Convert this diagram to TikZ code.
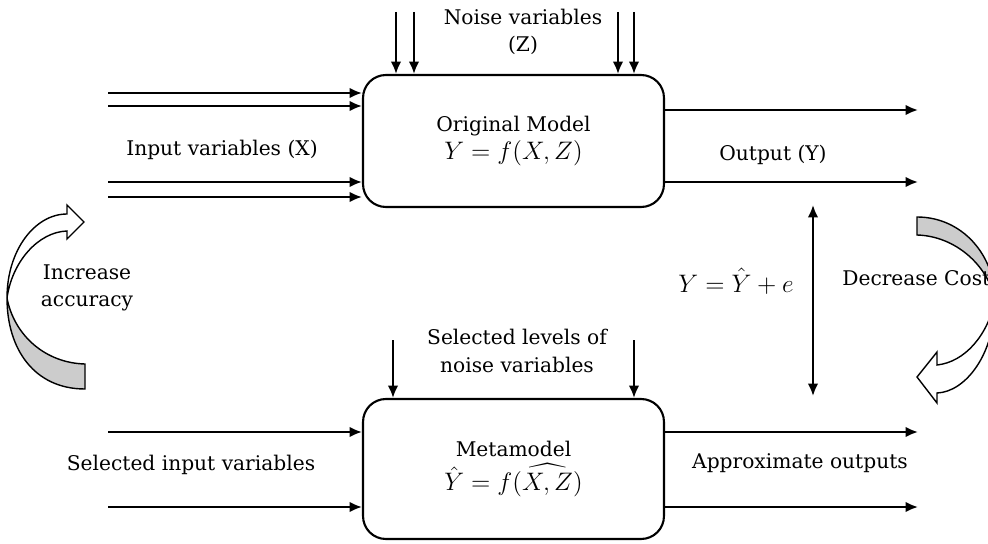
\documentclass[tikz,border=0pt]{standalone}
\usepackage{amsmath}
\usepackage{fontspec}
\setmainfont{DejaVu Serif}
\usetikzlibrary{arrows.meta}
\usetikzlibrary{positioning}
\newcommand{\eqsize}{\fontsize{14}{15}\selectfont}
\tikzset{
  flow/.style={very thick, -{Latex[length=7pt,width=6pt]}},
  twoway/.style={very thick, {Latex[length=7pt,width=6pt]}-{Latex[length=7pt,width=6pt]}},
  modelbox/.style={draw, very thick, rounded corners=13pt, minimum width=6.02cm, align=center},
  lbl/.style={align=center, inner sep=0pt},
  ribbon/.style={draw, thick, line join=miter},
}

\begin{document}
\begin{tikzpicture}[x=0.02cm, y=-0.02cm, font=\fontsize{11.5}{15.5}\selectfont]
\useasboundingbox (0,0) rectangle (988,544);

\node[modelbox, minimum height=2.64cm] (orig) at (513.5,141) {Original Model\\ {\eqsize $Y=f(X,Z)$}};
\node[modelbox, minimum height=2.8cm] (meta) at (513.5,469) {Metamodel\\[3pt] {\eqsize $\hat{Y}=f\widehat{(X,Z)}$}};

% inputs and outputs of the original model
\foreach \y [count=\i] in {93,106,182,197}{
  \coordinate (xin\i) at (108,\y);
  \draw[flow] (xin\i) -- (xin\i -| orig.west);
}
\foreach \y [count=\i] in {110,182}{
  \coordinate (yout\i) at (918,\y);
  \draw[flow] (yout\i -| orig.east) -- (yout\i);
}
\foreach \x [count=\i] in {396,414,618,634}{
  \coordinate (zin\i) at (\x,12);
  \draw[flow] (zin\i) -- (zin\i |- orig.north);
}

% inputs and outputs of the metamodel
\foreach \y [count=\i] in {432,507}{
  \coordinate (sin\i) at (108,\y);
  \draw[flow] (sin\i) -- (sin\i -| meta.west);
  \coordinate (aout\i) at (918,\y);
  \draw[flow] (aout\i -| meta.east) -- (aout\i);
}
\foreach \x [count=\i] in {393,634}{
  \coordinate (lz\i) at (\x,340);
  \draw[flow] (lz\i) -- (lz\i |- meta.north);
}

\coordinate (etop) at (813,205);
\coordinate (ebot) at (813,396);
\draw[twoway] (etop) -- (ebot);

% curved arrows
\filldraw[ribbon, fill=gray!40] (85,364) -- (85,389) .. controls (35,389) and (7,350) .. (7,298)
  .. controls (14,335) and (45,363) .. (85,364) -- cycle;
\filldraw[ribbon, fill=white] (7,298) .. controls (7,250) and (35,214) .. (67,214) -- (67,205) -- (84,222)
  -- (67,239) -- (67,231) .. controls (38,232) and (12,262) .. (7,298) -- cycle;

\filldraw[ribbon, fill=gray!40] (917,217) -- (917,235) .. controls (955,236) and (988,265) .. (995,300)
  .. controls (995,255) and (962,217) .. (917,217) -- cycle;
\filldraw[ribbon, fill=white] (995,300) .. controls (995,355) and (965,392) .. (937,393) -- (937,403) -- (917,377)
  -- (937,352) -- (937,365) .. controls (965,362) and (988,335) .. (995,300) -- cycle;

% labels
\node[lbl] (noise) at (523,32) {Noise variables\\(Z)};
\node[lbl] (xlbl) at (222,150) {Input variables (X)};
\node[lbl] (ylbl) at (773,155) {Output (Y)};
\node[lbl] (err) at (736,281) {\eqsize $Y=\hat{Y}+e$};
\node[lbl, anchor=west] (cost) at (842,278) {Decrease Cost};
\node[lbl] (acc) at (87,288) {Increase\\accuracy};
\node[lbl] (levels) at (517,351) {Selected levels of\\noise variables};
\node[lbl] (slbl) at (191,465) {Selected input variables};
\node[lbl] (albl) at (800,463) {Approximate outputs};
\end{tikzpicture}
\end{document}
